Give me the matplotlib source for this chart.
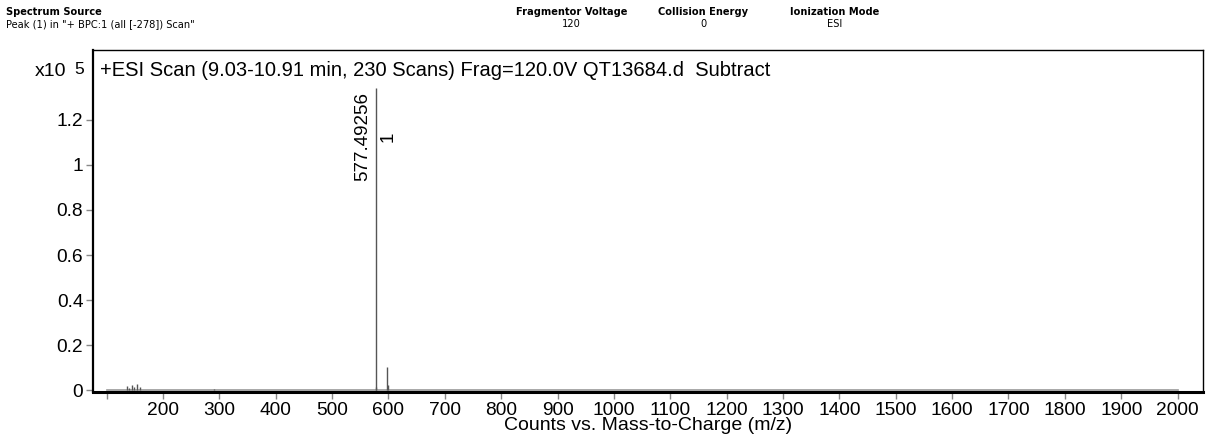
import matplotlib.pyplot as plt
from matplotlib.ticker import FuncFormatter

# Spectrum peaks (m/z, counts)
mz = [100, 137, 140, 146, 149, 153.5, 159, 290, 577.49256, 578.5, 598, 600, 2000]
counts = [300, 1800, 1200, 2500, 1500, 2800, 1600, 600, 134100, 1500, 10500, 2500, 300]
baseline_mz = [100, 2000]
baseline_counts = [300, 300]

peak_mz = 577.49256
peak_label = '577.49256'
peak_rank = '1'

x_ticks = list(range(100, 2001, 100))
y_ticks = [0, 20000, 40000, 60000, 80000, 100000, 120000]

header_titles = ['Fragmentor Voltage', 'Collision Energy', 'Ionization Mode']
header_values = ['120', '0', 'ESI']

plt.rcParams['font.family'] = ['Liberation Sans', 'DejaVu Sans']

fig = plt.figure(figsize=(12.06, 4.41), dpi=100)
ax = fig.add_axes([0.0771, 0.111, 0.9204, 0.7756])

# baseline and peaks
ax.plot(baseline_mz, baseline_counts, color='#999999', linewidth=1.2)
ax.vlines(mz, 0, counts, color='#555555', linewidth=1.0)

ax.set_xlim(76, 2045)
ax.set_ylim(-800, 151000)

ax.set_xticks(x_ticks)
ax.set_xticklabels(['' if t == 100 else str(t) for t in x_ticks])
ax.set_yticks(y_ticks)
ax.yaxis.set_major_formatter(FuncFormatter(lambda v, p: f'{v / 1e5:g}'))
ax.tick_params(axis='both', labelsize=13.8, color='#888888', length=5, width=1)
ax.tick_params(axis='x', pad=2)
ax.tick_params(axis='y', pad=2)

for side in ['top', 'right']:
    ax.spines[side].set_linewidth(1.0)
ax.spines['left'].set_linewidth(1.6)
ax.spines['bottom'].set_linewidth(2.2)

ax.set_xlabel('Counts vs. Mass-to-Charge (m/z)', fontsize=14, labelpad=-1)

# title inside plot area
fig.text(0.083, 1 - 70 / 441, '+ESI Scan (9.03-10.91 min, 230 Scans) Frag=120.0V QT13684.d  Subtract',
         fontsize=14.5, va='center', ha='left')
fig.text(0.029, 1 - 72 / 441, 'x10', fontsize=14, va='center', ha='left')
fig.text(0.062, 1 - 69 / 441, '5', fontsize=12.5, va='center', ha='left')

# peak annotations
peak_height = counts[mz.index(peak_mz)]
ax.annotate(peak_label, xy=(peak_mz, peak_height), xytext=(-3, -3), textcoords='offset points',
            rotation=90, ha='right', va='top', fontsize=13.5)
ax.annotate(peak_rank, xy=(peak_mz, peak_height), xytext=(3, -31), textcoords='offset points',
            rotation=90, ha='left', va='top', fontsize=13.5)

# header block
hdr = ['Liberation Sans Narrow', 'DejaVu Sans']
fig.text(0.005, 0.972, 'Spectrum Source', fontsize=7.1, fontweight='bold', family=hdr, va='center')
fig.text(0.005, 0.945, 'Peak (1) in "+ BPC:1 (all [-278]) Scan"', fontsize=7.1, family=hdr, va='center')
for x, t, v in zip([0.474, 0.583, 0.692], header_titles, header_values):
    fig.text(x, 0.972, t, fontsize=7.1, fontweight='bold', family=hdr, ha='center', va='center')
    fig.text(x, 0.945, v, fontsize=7.1, family=hdr, ha='center', va='center')

plt.savefig('out.png', dpi=100)
